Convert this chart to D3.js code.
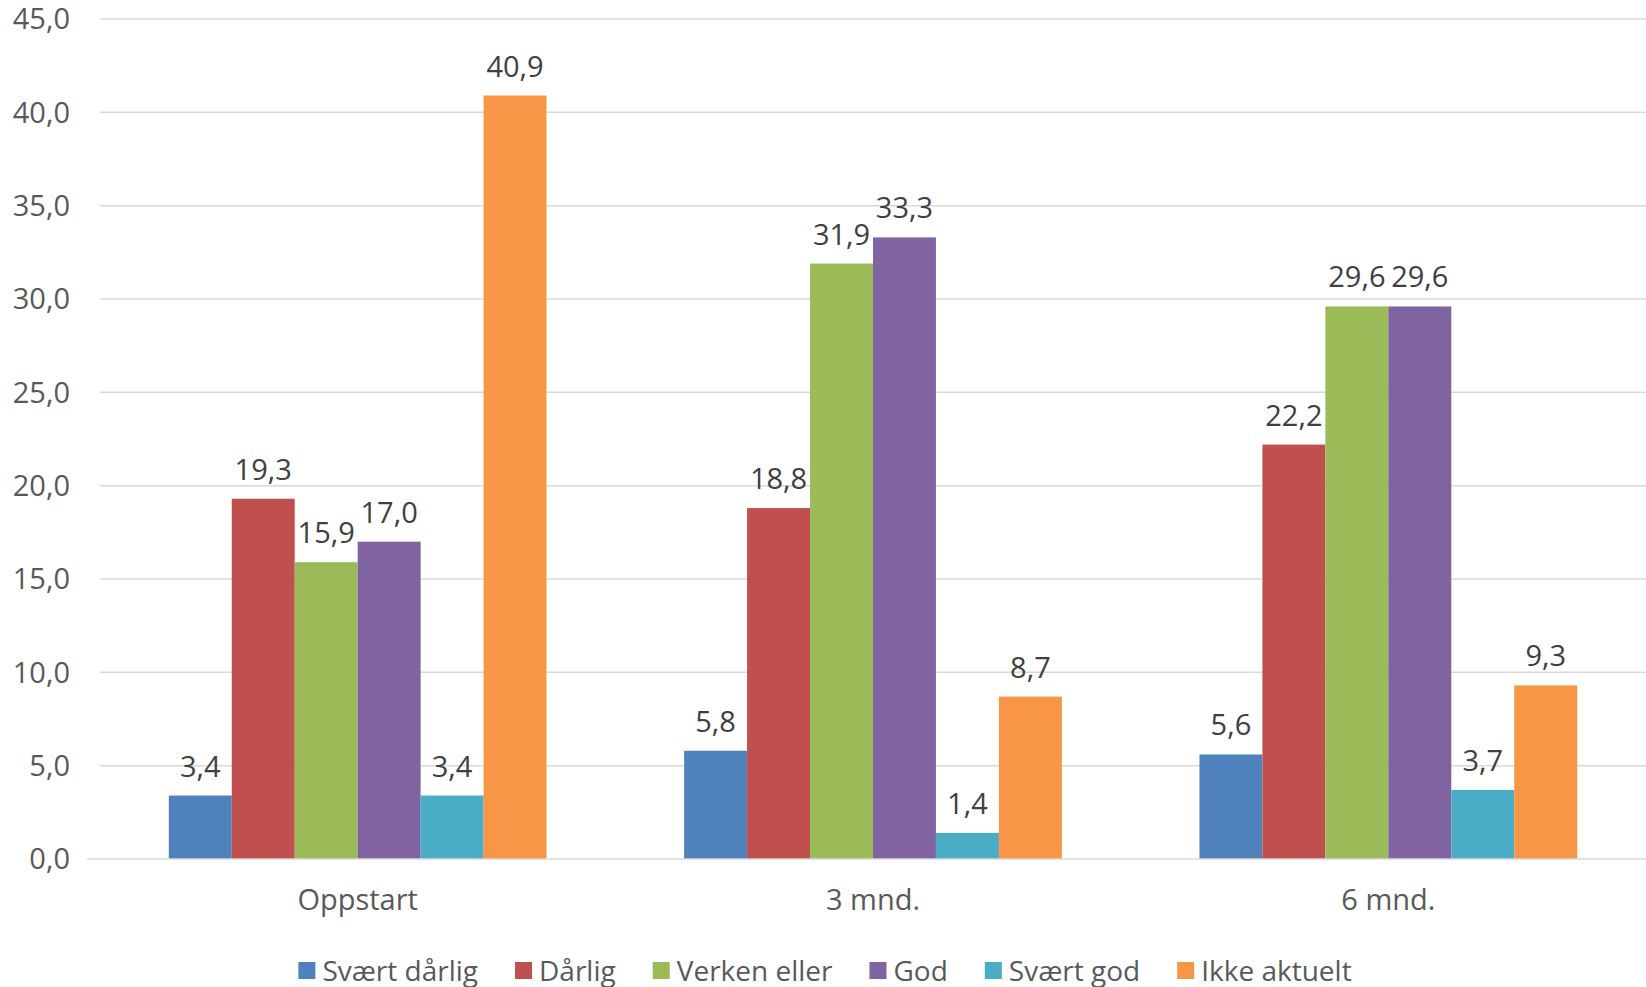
<!DOCTYPE html>
<html>
<head>
<meta charset="utf-8">
<script src="https://cdn.jsdelivr.net/npm/d3@7"></script>
<style>
  body { margin: 0; background: #fff; }
  svg { display: block; font-family: "Open Sans", sans-serif; }
</style>
</head>
<body>
<svg id="chart" width="1646" height="987"></svg>
<script>
// data
const categories = ["Oppstart", "3 mnd.", "6 mnd."];
const seriesNames = ["Svært dårlig", "Dårlig", "Verken eller", "God", "Svært god", "Ikke aktuelt"];
const svaertDarlig = [3.4, 5.8, 5.6];
const darlig = [19.3, 18.8, 22.2];
const verkenEller = [15.9, 31.9, 29.6];
const god = [17.0, 33.3, 29.6];
const svaertGod = [3.4, 1.4, 3.7];
const ikkeAktuelt = [40.9, 8.7, 9.3];
const yTicks = [0, 5, 10, 15, 20, 25, 30, 35, 40, 45];

const seriesValues = [svaertDarlig, darlig, verkenEller, god, svaertGod, ikkeAktuelt];
const colors = ["#4F81BD", "#C0504D", "#9BBB59", "#8064A2", "#4BACC6", "#F79646"];

const svg = d3.select("#chart");
const plotLeft = 100, plotRight = 1646, plotTop = 19, plotBottom = 859;

const fmt = v => d3.format(".1f")(v).replace(".", ",");

const y = d3.scaleLinear().domain([0, 45]).range([plotBottom, plotTop]);
const x0 = d3.scaleBand().domain(categories).range([plotLeft, plotRight]).paddingInner(0.267).paddingOuter(0.1335);
const x1 = d3.scaleBand().domain(seriesNames).range([0, x0.bandwidth()]);

// gridlines
svg.append("g").selectAll("line")
  .data(yTicks.filter(t => t > 0))
  .enter().append("line")
  .attr("x1", plotLeft).attr("x2", plotRight)
  .attr("y1", d => y(d)).attr("y2", d => y(d))
  .attr("stroke", "#d9d9d9").attr("stroke-width", 1.5);

// y tick labels
svg.append("g").selectAll("text")
  .data(yTicks)
  .enter().append("text")
  .attr("x", 70).attr("y", d => y(d)).attr("dy", "0.36em")
  .attr("text-anchor", "end")
  .attr("font-size", 29).attr("fill", "#595959")
  .text(d => fmt(d));

// bars
const groups = svg.append("g").selectAll("g")
  .data(categories)
  .enter().append("g")
  .attr("transform", d => `translate(${x0(d)},0)`);

groups.selectAll("rect")
  .data((c, ci) => seriesNames.map((s, si) => ({ s, v: seriesValues[si][ci], c: colors[si] })))
  .enter().append("rect")
  .attr("x", d => x1(d.s))
  .attr("width", x1.bandwidth())
  .attr("y", d => y(d.v))
  .attr("height", d => y(0) - y(d.v))
  .attr("fill", d => d.c);

groups.selectAll("text")
  .data((c, ci) => seriesNames.map((s, si) => ({ s, v: seriesValues[si][ci] })))
  .enter().append("text")
  .attr("x", d => x1(d.s) + x1.bandwidth() / 2)
  .attr("y", d => y(d.v) - 19)
  .attr("text-anchor", "middle")
  .attr("font-size", 29).attr("fill", "#404040")
  .text(d => fmt(d.v));

// baseline
svg.append("line")
  .attr("x1", 87).attr("x2", plotRight)
  .attr("y1", y(0)).attr("y2", y(0))
  .attr("stroke", "#d9d9d9").attr("stroke-width", 1.5);

// category labels
svg.append("g").selectAll("text")
  .data(categories)
  .enter().append("text")
  .attr("x", d => x0(d) + x0.bandwidth() / 2)
  .attr("y", 910)
  .attr("text-anchor", "middle")
  .attr("font-size", 29).attr("fill", "#595959")
  .text(d => d);

// legend
const legend = svg.append("g");
const items = legend.selectAll("g")
  .data(seriesNames)
  .enter().append("g");
items.append("rect")
  .attr("width", 17).attr("height", 17).attr("y", 962)
  .attr("fill", (d, i) => colors[i]);
items.append("text")
  .attr("x", 24).attr("y", 981)
  .attr("font-size", 28).attr("fill", "#595959")
  .text(d => d);

let pos = 0;
const offsets = [];
items.each(function () {
  offsets.push(pos);
  pos += 24 + this.querySelector("text").getComputedTextLength() + 37;
});
const total = pos - 37;
const start = 825 - total / 2;
items.attr("transform", (d, i) => `translate(${start + offsets[i]},0)`);
</script>
</body>
</html>
